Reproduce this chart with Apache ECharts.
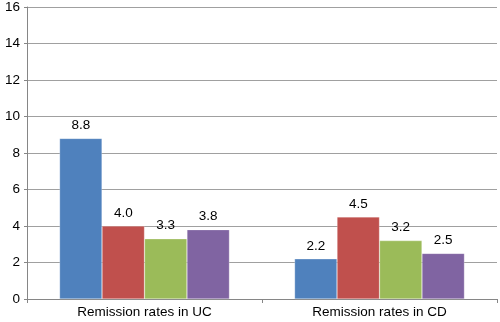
<!DOCTYPE html>
<html><head><meta charset="utf-8">
<script src="https://cdn.jsdelivr.net/npm/echarts@6/dist/echarts.min.js"></script>
<style>html,body{margin:0;padding:0;background:#fff}#c{width:500px;height:322px}</style>
</head><body><div id="c"></div>
<script>
var categories = ['Remission rates in UC', 'Remission rates in CD'];
var seriesA = [8.8, 2.2];
var seriesB = [4.0, 4.5];
var seriesC = [3.3, 3.2];
var seriesD = [3.8, 2.5];
var yTicks = [0, 2, 4, 6, 8, 10, 12, 14, 16];
var colors = ['#4F81BD', '#C0504D', '#9BBB59', '#8064A2'];

var chart = echarts.init(document.getElementById('c'), null, {renderer: 'canvas'});
function mk(name, data, i) {
  return {
    name: name, type: 'bar', data: data, barGap: '0%', barCategoryGap: '27.7%',
    itemStyle: {color: colors[i], borderColor: 'rgba(255,255,255,0.5)', borderWidth: 0.5},
    label: {show: true, position: 'top', distance: 6, color: '#000', fontSize: 13.5,
      fontFamily: 'Liberation Sans, Arial', formatter: function (p) { return p.value.toFixed(1); }}
  };
}
chart.setOption({
  animation: false,
  grid: {left: 27, right: 3, top: 7, bottom: 23, containLabel: false},
  xAxis: {
    type: 'category', data: categories,
    axisLine: {lineStyle: {color: '#868686'}},
    axisTick: {show: true, length: 4, lineStyle: {color: '#868686'}},
    axisLabel: {color: '#000', fontSize: 13.5, fontFamily: 'Liberation Sans, Arial', margin: 6}
  },
  yAxis: {
    type: 'value', min: yTicks[0], max: yTicks[yTicks.length - 1], interval: 2,
    axisLine: {show: true, lineStyle: {color: '#868686'}},
    axisTick: {show: true, length: 3, lineStyle: {color: '#868686'}},
    splitLine: {lineStyle: {color: '#A0A0A0', width: 1}},
    axisLabel: {color: '#000', fontSize: 13.5, fontFamily: 'Liberation Sans, Arial', margin: 7}
  },
  series: [mk('A', seriesA, 0), mk('B', seriesB, 1), mk('C', seriesC, 2), mk('D', seriesD, 3)]
});
</script></body></html>
